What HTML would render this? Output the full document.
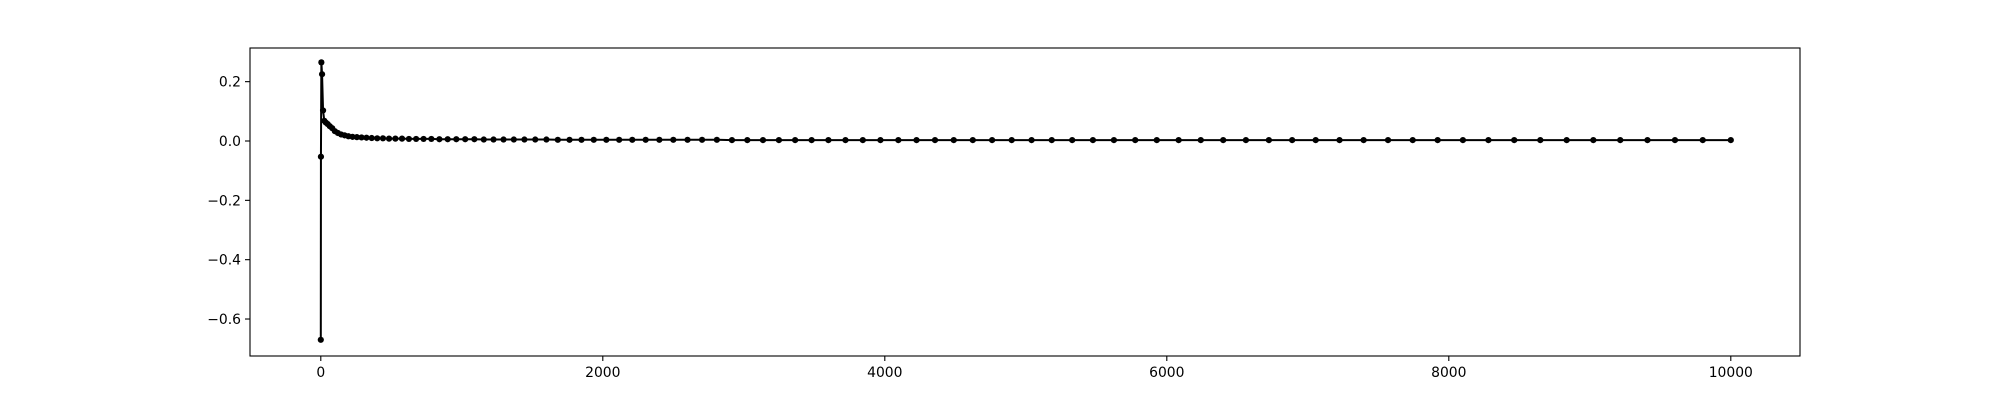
<!DOCTYPE html>
<html><head><meta charset="utf-8"><style>
html,body{margin:0;padding:0;background:#fff;}
svg{display:block;font-family:"DejaVu Sans","Liberation Sans",sans-serif;}
</style></head><body>
<svg id="chart" width="2000" height="400" viewBox="0 0 2000 400" xmlns="http://www.w3.org/2000/svg">
<rect x="0" y="0" width="2000" height="400" fill="#fff"/>
<g id="plot"></g>
<g id="xaxis"></g>
<g id="yaxis"></g>
<rect x="250" y="48" width="1550" height="308" fill="none" stroke="#000" stroke-width="1.1"/>
</svg>
<script>
const xValues = [0,1,4,9,16,25,36,49,64,81,100,121,144,169,196,225,256,289,324,361,400,441,484,529,576,625,676,729,784,841,900,961,1024,1089,1156,1225,1296,1369,1444,1521,1600,1681,1764,1849,1936,2025,2116,2209,2304,2401,2500,2601,2704,2809,2916,3025,3136,3249,3364,3481,3600,3721,3844,3969,4096,4225,4356,4489,4624,4761,4900,5041,5184,5329,5476,5625,5776,5929,6084,6241,6400,6561,6724,6889,7056,7225,7396,7569,7744,7921,8100,8281,8464,8649,8836,9025,9216,9409,9604,9801,10000];
const yValues = [-0.67,-0.053,0.265,0.225,0.103,0.068,0.062,0.057,0.05,0.043,0.033,0.027,0.022,0.019,0.016,0.014,0.013,0.012,0.011,0.010,0.009,0.009,0.008,0.008,0.008,0.007,0.007,0.007,0.007,0.006,0.006,0.006,0.006,0.006,0.005,0.005,0.005,0.005,0.005,0.005,0.005,0.004,0.004,0.004,0.004,0.004,0.004,0.004,0.004,0.004,0.004,0.004,0.004,0.004,0.003,0.003,0.003,0.003,0.003,0.003,0.003,0.003,0.003,0.003,0.003,0.003,0.003,0.003,0.003,0.003,0.003,0.003,0.003,0.003,0.003,0.003,0.003,0.003,0.003,0.003,0.003,0.003,0.003,0.003,0.003,0.003,0.003,0.003,0.003,0.003,0.003,0.003,0.003,0.003,0.003,0.003,0.003,0.003,0.003,0.003,0.003];
const xTicks = [0,2000,4000,6000,8000,10000];
const xTickLabels = ["0","2000","4000","6000","8000","10000"];
const yTicks = [-0.6,-0.4,-0.2,0.0,0.2];
const yTickLabels = ["\u22120.6","\u22120.4","\u22120.2","0.0","0.2"];

const NS = "http://www.w3.org/2000/svg";
function xs(v){ return 320.8 + v * 0.141; }
function ys(v){ return 141 - v * 296.7; }
function mk(tag, attrs, parent){
  const e = document.createElementNS(NS, tag);
  for (const k in attrs) e.setAttribute(k, attrs[k]);
  parent.appendChild(e);
  return e;
}
const plot = document.getElementById('plot');
const xa = document.getElementById('xaxis');
const ya = document.getElementById('yaxis');

let d = '';
xValues.forEach((x, i) => { d += (i ? 'L' : 'M') + xs(x).toFixed(2) + ' ' + ys(yValues[i]).toFixed(2); });
const line = mk('path', {d: d, fill: 'none', stroke: '#000', 'stroke-width': 2, 'stroke-linejoin': 'round'}, plot);


xValues.forEach((x, i) => {
  const c = mk('circle', {cx: xs(x), cy: ys(yValues[i]), r: 3.1, fill: '#000'}, plot);
  
  
});

xTicks.forEach((t, i) => {
  const px = xs(t);
  const tk = mk('line', {x1: px, x2: px, y1: 356, y2: 361, stroke: '#000', 'stroke-width': 1.1}, xa);
  
  
  const tx = mk('text', {x: px, y: 377, 'font-size': 13.9, 'text-anchor': 'middle', fill: '#000'}, xa);
  tx.textContent = xTickLabels[i];
  
  
});
yTicks.forEach((t, i) => {
  const py = ys(t);
  const tk = mk('line', {x1: 245, x2: 250, y1: py, y2: py, stroke: '#000', 'stroke-width': 1.1}, ya);
  
  
  const tx = mk('text', {x: 241, y: py + 5, 'font-size': 13.9, 'text-anchor': 'end', fill: '#000'}, ya);
  tx.textContent = yTickLabels[i];
  
  
});
</script>
</body></html>
